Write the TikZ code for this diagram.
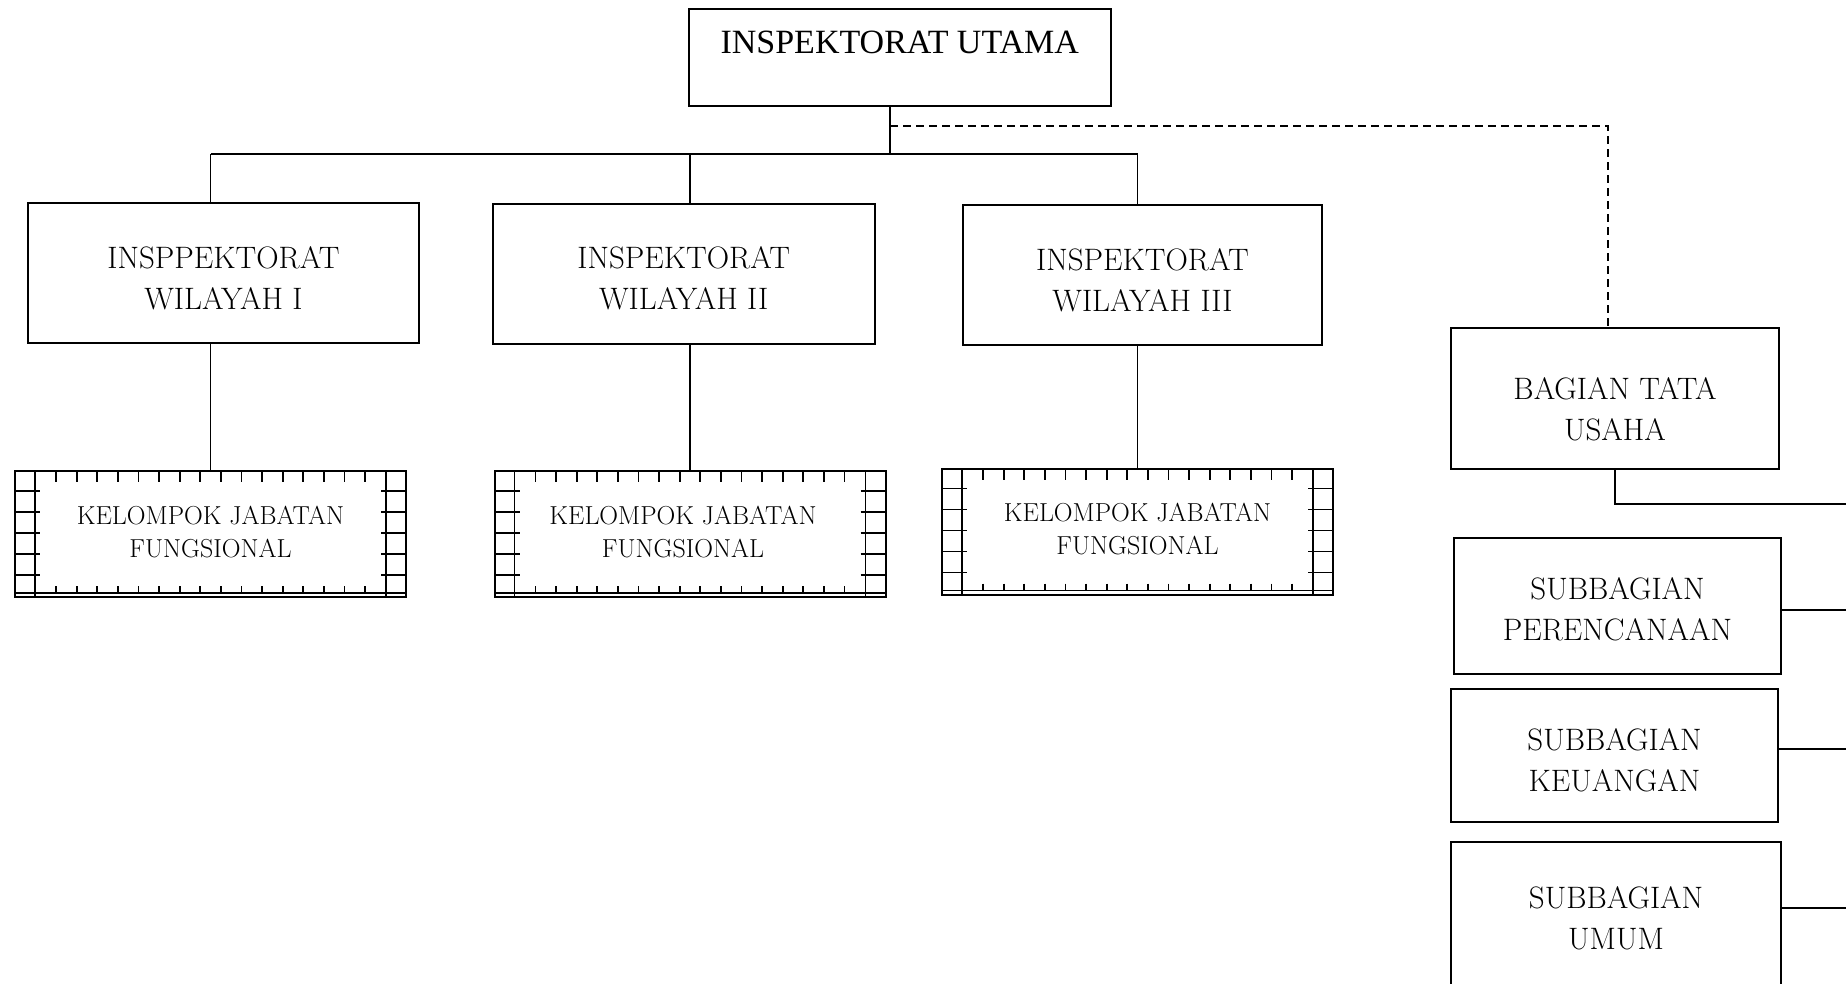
\documentclass[tikz,border=0pt]{standalone}
\usepackage{fontspec}
\newfontfamily\timesf{Liberation Serif}
\usetikzlibrary{calc}
\newcommand\twoline[2]{\begin{tabular}[b]{@{}c@{}}#1\\#2\end{tabular}}
\begin{document}
\begin{tikzpicture}[x=1pt,y=-1pt,
  box/.style={draw,line width=2pt,inner sep=0pt,anchor=north west,font=\fontsize{31}{41}\selectfont},
  conn/.style={line width=1.8pt},
  dline/.style={line width=1.8pt,dash pattern=on 8pt off 5pt},
  kbox/.style={draw,line width=2pt,inner sep=0pt,outer sep=0pt,anchor=north west,minimum width=391pt,
    font=\fontsize{26}{33}\selectfont},
  kdeco/.style={line width=1.8pt}]
\useasboundingbox (0,0) rectangle (1846,983);
\clip (0,0) rectangle (1846,983);

\node[box,minimum width=422.5pt,text height=44pt,text depth=53pt,font=\timesf\fontsize{34}{40}\selectfont] (top) at (687.5,8) {INSPEKTORAT UTAMA};

\node[box,minimum width=391pt,text height=106pt,text depth=34pt] (w1) at (27,202) {\twoline{INSPPEKTORAT}{WILAYAH I}};
\node[box,minimum width=381.5pt,text height=105.5pt,text depth=34.6pt] (w2) at (492,202.5) {\twoline{INSPEKTORAT}{WILAYAH II}};
\node[box,minimum width=359pt,text height=106.3pt,text depth=33.8pt] (w3) at (962,203.7) {\twoline{INSPEKTORAT}{WILAYAH III}};

\node[kbox,text height=86pt,text depth=40pt] (k1) at (15,471) {\twoline{KELOMPOK JABATAN}{FUNGSIONAL}};
\node[kbox,text height=86pt,text depth=40pt] (k2) at (494.5,471) {\twoline{KELOMPOK JABATAN}{FUNGSIONAL}\hspace*{14pt}};
\node[kbox,text height=85.5pt,text depth=40.5pt] (k3) at (942,468.5) {\twoline{KELOMPOK JABATAN}{FUNGSIONAL}};

\foreach \k in {k1,k2,k3} {
  \begin{scope}[shift={(\k.north west)},kdeco]
    \draw (20,0) -- (20,126) (371,0) -- (371,126);
    \foreach \yy in {20,41,62,83,104} {\draw (0,\yy) -- (25,\yy) (366,\yy) -- (391,\yy);}
    \foreach \ii in {0,...,15} {\draw ({41+\ii*20.6},0) -- ++(0,11) ({41+\ii*20.6},115) -- ++(0,7);}
    \draw (0,122) -- (391,122);
  \end{scope}
}

\node[box,minimum width=328pt,text height=112pt,text depth=29pt] (bagian) at (1450,327) {\twoline{BAGIAN TATA}{USAHA}};
\node[box,minimum width=327pt,text height=102.5pt,text depth=33.5pt] (perenc) at (1453,537) {\twoline{SUBBAGIAN}{PERENCANAAN}};
\node[box,minimum width=327pt,text height=102.5pt,text depth=30.6pt] (keu) at (1450,687.5) {\twoline{SUBBAGIAN}{KEUANGAN}};
\node[box,minimum width=330pt,text height=107.4pt,text depth=62pt] (umum) at (1450,840.6) {\twoline{SUBBAGIAN}{UMUM}};

\coordinate (bus) at (890,154);
\coordinate (dstart) at (890,126);
\coordinate (dturn) at (1608,126);
\coordinate (tuend) at (1846,504);
\coordinate (pe) at (1846,610);
\coordinate (ke) at (1846,749);
\coordinate (um) at (1846,908);

\draw[conn] (top.south -| bus) -- (bus);
\draw[conn] (k1.north |- bus) -- (k3.north |- bus);
\foreach \w/\k in {w1/k1,w2/k2,w3/k3} {
  \draw[conn] (\k.north |- bus) -- (\k.north |- \w.north);
  \draw[conn] (\k.north |- \w.south) -- (\k.north);
}
\draw[dline] (dstart) -- (dturn) -- (dturn |- bagian.north);
\draw[conn] (bagian.south) |- (tuend);
\draw[conn] (perenc.east |- pe) -- (pe);
\draw[conn] (keu.east |- ke) -- (ke);
\draw[conn] (umum.east |- um) -- (um);
\end{tikzpicture}
\end{document}
